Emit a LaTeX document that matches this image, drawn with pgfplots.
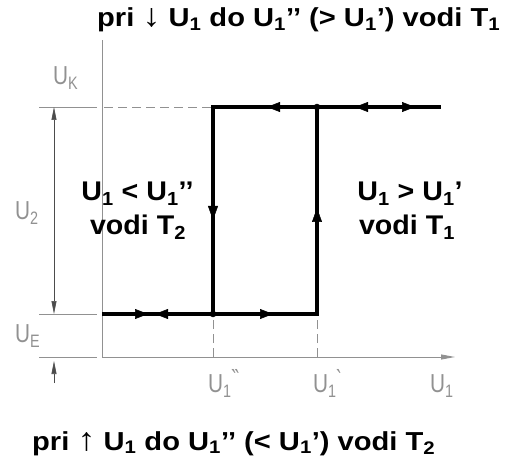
\documentclass[border=0pt]{standalone}
\usepackage{pgfplots}
\pgfplotsset{compat=1.18}
\usepackage{fontspec}
\setmainfont{Liberation Sans}
\newfontfamily\dejavu{DejaVu Sans}
\newfontfamily\cadfont[FakeStretch=0.8]{Liberation Sans}
\newfontfamily\titlefont[FakeStretch=1.12]{Liberation Sans}
\newfontfamily\innerfont[FakeStretch=1.06]{Liberation Sans}
\usetikzlibrary{arrows.meta}
\definecolor{cadgray}{RGB}{145,145,145}
\newcommand{\cadsub}[1]{\raisebox{-5pt}{\fontsize{18}{18}\selectfont #1}}
\newcommand{\cadpr}[1]{\raisebox{7pt}{\dejavu\fontsize{22}{22}\selectfont #1}}
\newcommand{\bsub}[1]{\raisebox{-0.28em}{\fontsize{0.72\fontdimen6\font}{1}\selectfont #1}}
\begin{document}
\begin{tikzpicture}
\begin{axis}[width=513pt,height=466pt,scale only axis,
  xmin=-102,xmax=411,ymin=-109,ymax=357,hide axis,clip=false]
\path[draw=none] (rel axis cs:0,0) rectangle (rel axis cs:1,1);
% axes
\addplot[cadgray, line width=0.9pt, -{Triangle[length=14pt,width=5pt]}] coordinates {(0,0) (353,0)};
\addplot[cadgray, line width=0.9pt] coordinates {(0,0) (0,317)};
% extension lines
\addplot[cadgray, line width=0.7pt] coordinates {(-63,250) (-5,250)};
\addplot[cadgray, line width=0.7pt] coordinates {(-63,43) (-5,43)};
\addplot[cadgray, line width=0.7pt] coordinates {(-63,0) (-5,0)};
% dashed guides
\addplot[cadgray, line width=0.8pt, dash pattern=on 9pt off 5pt] coordinates {(2,250) (111,250)};
\addplot[cadgray, line width=0.8pt, dash pattern=on 9pt off 5pt] coordinates {(111,0) (111,43)};
\addplot[cadgray, line width=0.8pt, dash pattern=on 9pt off 5pt] coordinates {(215,0) (215,43)};
% dimension arrows
\addplot[black!70, line width=0.6pt, {Triangle[length=13pt,width=5pt]}-{Triangle[length=13pt,width=5pt]}] coordinates {(-48,43) (-48,250)};
\addplot[black!70, line width=0.6pt, -{Triangle[length=13pt,width=5pt]}] coordinates {(-48,-26) (-48,-4)};
% hysteresis loop
\addplot[black, line width=3.6pt, line join=miter] coordinates {(0,43) (215,43) (215,250) (339,250)};
\addplot[black, line width=3.6pt, line join=miter] coordinates {(215,250) (111,250) (111,43)};
% direction arrows
\addplot[black, line width=0.5pt, -{Triangle[length=13pt,width=10pt]}] coordinates {(30,43) (46,43)};
\addplot[black, line width=0.5pt, -{Triangle[length=13pt,width=10pt]}] coordinates {(70,43) (53,43)};
\addplot[black, line width=0.5pt, -{Triangle[length=13pt,width=10pt]}] coordinates {(150,43) (171,43)};
\addplot[black, line width=0.5pt, -{Triangle[length=13pt,width=10pt]}] coordinates {(185,250) (165,250)};
\addplot[black, line width=0.5pt, -{Triangle[length=13pt,width=10pt]}] coordinates {(275,250) (253,250)};
\addplot[black, line width=0.5pt, -{Triangle[length=13pt,width=10pt]}] coordinates {(290,250) (313,250)};
\addplot[black, line width=0.5pt, -{Triangle[length=14pt,width=10pt]}] coordinates {(111,160) (111,137)};
\addplot[black, line width=0.5pt, -{Triangle[length=14pt,width=10pt]}] coordinates {(215,125) (215,149)};
% junction dots
\addplot[only marks, mark=*, mark size=3pt, black] coordinates {(111,43) (215,250)};
% CAD labels
\begin{scope}[every node/.style={text=cadgray, font=\cadfont\fontsize{26}{26}\selectfont, inner sep=0pt}]
\node[anchor=base west] at (axis cs:-49,272) {U\cadsub{K}};
\node[anchor=base west] at (axis cs:-87,137) {U\cadsub{2}};
\node[anchor=base west] at (axis cs:-87,15) {U\cadsub{E}};
\node[anchor=base west] at (axis cs:106,-35) {U\cadsub{1}\cadpr{‶}};
\node[anchor=base west] at (axis cs:211,-35) {U\cadsub{1}\cadpr{‵}};
\node[anchor=base west] at (axis cs:328,-35) {U\cadsub{1}};
\end{scope}
% bold texts
\begin{scope}[every node/.style={font=\titlefont\bfseries\fontsize{26}{26}\selectfont, inner sep=0pt}]
\node[anchor=base west] at (axis cs:-5,330) {pri {\mdseries\fontsize{32}{32}\selectfont↓} U\textsubscript{1} do U\textsubscript{1}’’ (> U\textsubscript{1}’) vodi T\textsubscript{1}};
\node[anchor=base west] at (axis cs:-70,-93) {pri {\mdseries\fontsize{32}{32}\selectfont↑} U\textsubscript{1} do U\textsubscript{1}’’ (< U\textsubscript{1}’) vodi T\textsubscript{2}};
\end{scope}
\begin{scope}[every node/.style={font=\innerfont\bfseries\fontsize{27}{27}\selectfont, inner sep=0pt}]
\node[anchor=base] at (axis cs:35.5,156) {U\textsubscript{1} < U\textsubscript{1}’’};
\node[anchor=base] at (axis cs:36,122) {vodi T\textsubscript{2}};
\node[anchor=base] at (axis cs:308,156) {U\textsubscript{1} > U\textsubscript{1}’};
\node[anchor=base] at (axis cs:305,122) {vodi T\textsubscript{1}};
\end{scope}
\end{axis}
\end{tikzpicture}
\end{document}
